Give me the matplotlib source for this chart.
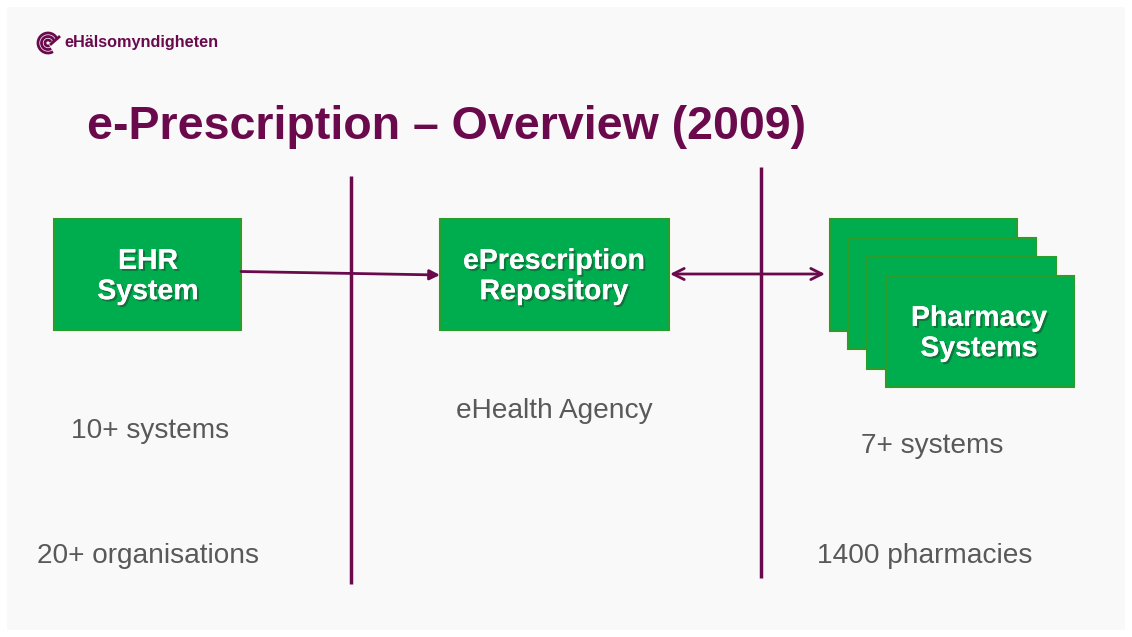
import matplotlib
matplotlib.use("Agg")
import matplotlib.pyplot as plt
from matplotlib.patches import Rectangle, Arc, FancyArrowPatch
import matplotlib.patheffects as pe

W, H = 1132, 637
PURPLE = "#6a0a4d"
GREEN = "#00ad4e"
EDGE = "#2a9d2a"
GREY = "#595959"

title = "e-Prescription \u2013 Overview (2009)"
brand = "eHälsomyndigheten"
box_labels = ["EHR\nSystem", "ePrescription\nRepository", "Pharmacy\nSystems"]
sub_labels = ["10+ systems", "eHealth Agency", "7+ systems"]
bottom_labels = ["20+ organisations", "1400 pharmacies"]

fig = plt.figure(figsize=(W / 100, H / 100), dpi=100)
fig.patch.set_facecolor("white")
ax = fig.add_axes([0, 0, 1, 1])
ax.set_xlim(0, W)
ax.set_ylim(H, 0)
ax.axis("off")

# slide background
ax.add_patch(Rectangle((7, 7), W - 14, H - 14, facecolor="#f9f9f9", edgecolor="none", zorder=0))

# logo icon
cx, cy = 48, 43
for r in [10, 6.5, 3]:
    ax.add_patch(Arc((cx, cy), 2 * r, 2 * r, theta1=-300, theta2=-20, color=PURPLE, lw=2.0, zorder=2))
ax.plot([cx + 3, cx + 11], [cy + 1, cy - 6], color=PURPLE, lw=2.0, zorder=2)
ax.text(64, 43, brand, fontsize=11.7, fontweight="bold", color=PURPLE, family="Liberation Sans",
        va="center", ha="left")

# title
ax.text(87, 127, title, fontsize=33.5, fontweight="bold", color=PURPLE, family="Liberation Sans",
        va="center", ha="left")

# vertical separators
ax.plot([351, 351], [176, 584], color=PURPLE, lw=2.5, zorder=1, solid_capstyle="butt")
ax.plot([761, 761], [167, 578], color=PURPLE, lw=2.5, zorder=1, solid_capstyle="butt")

def box(x0, y0, x1, y1):
    ax.add_patch(Rectangle((x0, y0), x1 - x0, y1 - y0, facecolor=GREEN, edgecolor=EDGE, lw=1.5, zorder=3))

shadow = [pe.withSimplePatchShadow(offset=(1.5, -1.5), shadow_rgbFace="#1a5030", alpha=0.6), pe.Normal()]

def boxtext(x, y, s):
    ax.text(x, y, s, fontsize=20.5, fontweight="bold", color="white", family="Liberation Sans",
            ha="center", va="center", linespacing=1.22, zorder=6, path_effects=shadow)

box(54, 219, 241, 330)
boxtext(148, 277, box_labels[0])
box(440, 219, 669, 330)
boxtext(554, 277, box_labels[1])
for (x0, y0, x1, y1) in [(830, 219, 1017, 331), (848, 238, 1036, 349), (867, 257, 1056, 369), (886, 276, 1074, 387)]:
    box(x0, y0, x1, y1)
boxtext(979, 334, box_labels[2])

# arrows
ax.add_patch(FancyArrowPatch((241, 271.5), (440, 275), arrowstyle="-|>,head_length=6,head_width=3",
                             color=PURPLE, lw=2, zorder=4, shrinkA=0, shrinkB=0))
ax.add_patch(FancyArrowPatch((670, 274), (825, 274), arrowstyle="<->,head_length=8,head_width=4",
                             color=PURPLE, lw=2, zorder=4, shrinkA=0, shrinkB=0))

# grey labels
for (x, y), s in zip([(150, 431), (554, 411), (932, 446)], sub_labels):
    ax.text(x, y, s, fontsize=20.2, color=GREY, family="Liberation Sans", ha="center", va="center")
for (x, y), s in zip([(148, 556), (925, 556)], bottom_labels):
    ax.text(x, y, s, fontsize=20.2, color=GREY, family="Liberation Sans", ha="center", va="center")

fig.savefig("out.png", dpi=100, facecolor="white")
